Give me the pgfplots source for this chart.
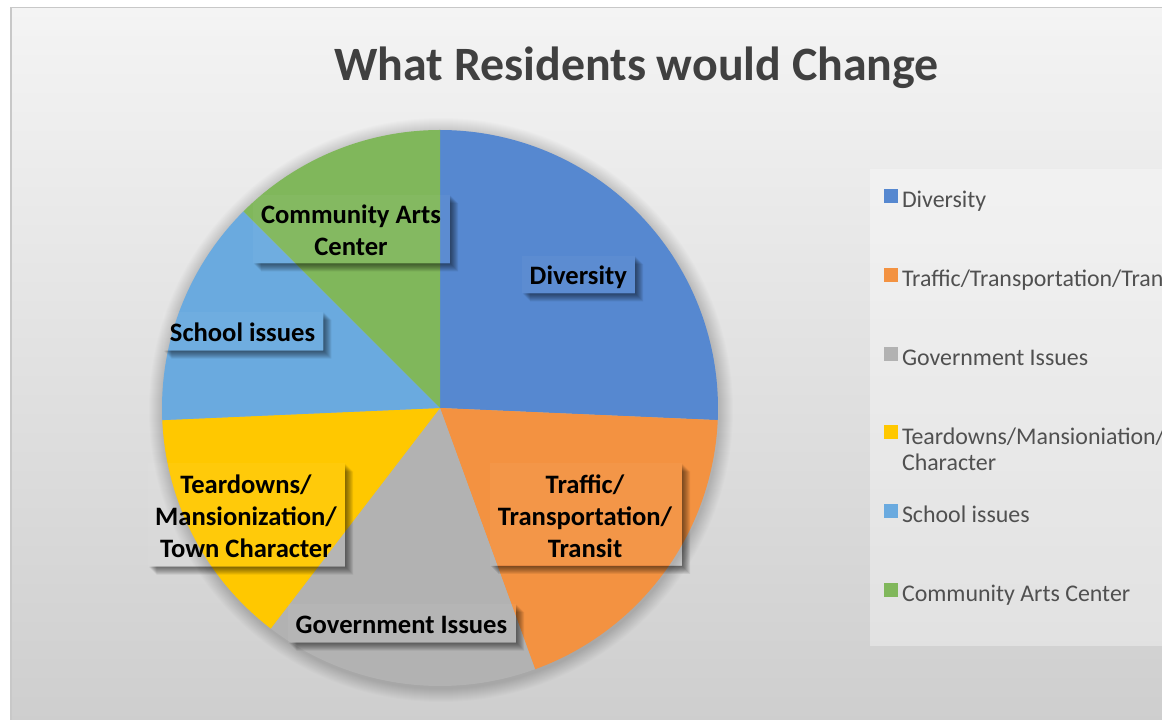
\documentclass[border=0pt]{standalone}
\usepackage{pgfplots}
\pgfplotsset{compat=1.18}
\usepackage{fontspec}
\setmainfont{Carlito}

\definecolor{cDiv}{RGB}{86,136,208}
\definecolor{cTra}{RGB}{243,146,65}
\definecolor{cGov}{RGB}{178,178,178}
\definecolor{cTea}{RGB}{255,200,0}
\definecolor{cSch}{RGB}{106,170,223}
\definecolor{cCom}{RGB}{128,183,91}
\definecolor{bgtop}{RGB}{244,244,244}
\definecolor{bgbot}{RGB}{206,206,206}
\definecolor{bordergray}{RGB}{200,200,200}
\definecolor{titlecol}{RGB}{64,64,64}
\definecolor{legtext}{RGB}{80,80,80}

% slice values (counts)
\def\vA{37}% Diversity
\def\vB{27}% Traffic/Transportation/Transit
\def\vC{23}% Government Issues
\def\vD{20}% Teardowns/Mansionization/Town Character
\def\vE{19}% School issues
\def\vF{18}% Community Arts Center

\pgfmathsetmacro\tot{\vA+\vB+\vC+\vD+\vE+\vF}
\pgfmathsetmacro\aA{90-360*\vA/\tot}
\pgfmathsetmacro\aB{\aA-360*\vB/\tot}
\pgfmathsetmacro\aC{\aB-360*\vC/\tot}
\pgfmathsetmacro\aD{\aC-360*\vD/\tot}
\pgfmathsetmacro\aE{\aD-360*\vE/\tot}
\pgfmathsetmacro\aF{\aE-360*\vF/\tot}

% label box: x1, y1 (top, image px), x2, y2 (bottom, image px)
\newcommand\lbox[4]{%
  \foreach \s in {1,...,8}{%
    \fill[black,opacity=0.075] ({#1+\s},{720-#4}) -- ({#3},{720-#4}) -- ({#3},{720-#2-\s}) -- ({#3+\s},{720-#2-\s}) -- ({#3+\s},{720-#4-\s}) -- ({#1+\s},{720-#4-\s}) -- cycle;
  }%
  \fill[white,opacity=0.04] (#1,{720-#2}) rectangle (#3,{720-#4});
}
\newcommand\lfont{\fontsize{26.6}{32}\selectfont\bfseries}

\begin{document}
\begin{tikzpicture}[x=1pt,y=1pt]
\clip (0,0) rectangle (1162,720);
\fill[white] (0,0) rectangle (1162,720);
\shade[top color=bgtop, bottom color=bgbot] (11,-5) rectangle (1180,712.5);
\draw[bordergray, line width=1.5pt] (11,-5) -- (11,712.5) -- (1180,712.5);
% legend panel
\fill[white,opacity=0.35] (870,{720-646}) rectangle (1180,{720-169});
% soft shadow of the pie
\foreach \k in {1,...,14}{\fill[black,opacity=0.012] (441,310) circle ({278+\k});}

\begin{axis}[
  x=1pt, y=1pt, xmin=0, xmax=1162, ymin=0, ymax=720,
  at={(0,0)}, anchor=origin, hide axis, clip=false,
  legend image code/.code={\fill[#1] (0pt,-1.8pt) rectangle (14pt,12.2pt);},
  legend cell align=left,
  legend style={
    at={(axis cs:884,531.3)}, anchor=north west,
    draw=none, fill=none, inner sep=0pt, outer sep=0pt,
    font=\fontsize{23.9}{26}\selectfont,
    row sep=53.8pt, column sep=4pt,
    nodes={inner sep=0pt, outer sep=0pt, text height=19pt, text depth=6pt, text=legtext},
  },
]
\addplot[fill=cDiv, draw=none, domain=\aA:90, samples=90, variable=\t]
  ({440+278*cos(\t)},{312+278*sin(\t)}) -- (axis cs:440,312) -- cycle;
\addlegendentry{Diversity}
\addplot[fill=cTra, draw=none, domain=\aB:\aA, samples=90, variable=\t]
  ({440+278*cos(\t)},{312+278*sin(\t)}) -- (axis cs:440,312) -- cycle;
\addlegendentry{Traffic/Transportation/Transit}
\addplot[fill=cGov, draw=none, domain=\aC:\aB, samples=90, variable=\t]
  ({440+278*cos(\t)},{312+278*sin(\t)}) -- (axis cs:440,312) -- cycle;
\addlegendentry{Government Issues}
\addplot[fill=cTea, draw=none, domain=\aD:\aC, samples=90, variable=\t]
  ({440+278*cos(\t)},{312+278*sin(\t)}) -- (axis cs:440,312) -- cycle;
\addlegendentry{\vtop{\hbox{Teardowns/Mansioniation/Town}\hbox{Character}}}
\addplot[fill=cSch, draw=none, domain=\aE:\aD, samples=90, variable=\t]
  ({440+278*cos(\t)},{312+278*sin(\t)}) -- (axis cs:440,312) -- cycle;
\addlegendentry{School issues}
\addplot[fill=cCom, draw=none, domain=\aF:\aE, samples=90, variable=\t]
  ({440+278*cos(\t)},{312+278*sin(\t)}) -- (axis cs:440,312) -- cycle;
\addlegendentry{Community Arts Center}
\end{axis}

% data labels
\lbox{522}{256}{635}{293.3}
\node[font=\lfont, anchor=base] at (578.3,{720-284.3}) {Diversity};

\lbox{490}{463.3}{682}{566}
\node[font=\lfont, anchor=base] at (585,{720-493.3}) {Traffic/};
\node[font=\lfont, anchor=base] at (585,{720-525.3}) {Transportation/};
\node[font=\lfont, anchor=base] at (585,{720-557.3}) {Transit};

\lbox{288.3}{604}{516}{642.7}
\node[font=\lfont, anchor=base] at (401.5,{720-633.3}) {Government Issues};

\lbox{148.3}{463.3}{345}{566.7}
\node[font=\lfont, anchor=base] at (246,{720-493.3}) {Teardowns/};
\node[font=\lfont, anchor=base] at (246,{720-525.3}) {Mansionization/};
\node[font=\lfont, anchor=base] at (246,{720-557.3}) {Town Character};

\lbox{163.3}{311.7}{323.3}{350.7}
\node[font=\lfont, anchor=base] at (242.5,{720-341.7}) {School issues};

\lbox{253}{195}{450}{263.3}
\node[font=\lfont, anchor=base] at (351,{720-223.3}) {Community Arts};
\node[font=\lfont, anchor=base] at (351,{720-255.3}) {Center};

% title
\node[font=\fontsize{47.9}{58}\selectfont\bfseries, text=titlecol, anchor=base] at (636.5,639) {What Residents would Change};
\end{tikzpicture}
\end{document}
